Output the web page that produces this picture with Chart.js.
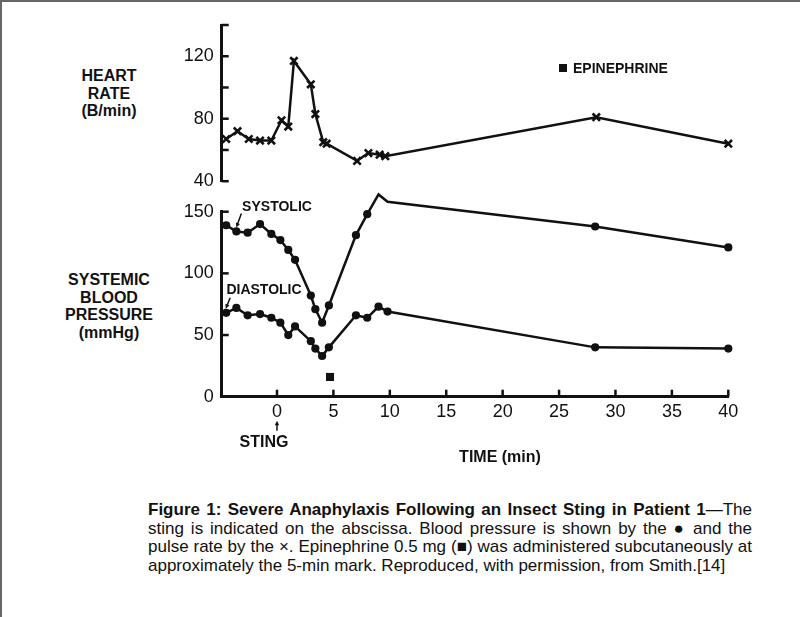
<!DOCTYPE html>
<html>
<head>
<meta charset="utf-8">
<script src="https://cdn.jsdelivr.net/npm/chart.js@4.4.1/dist/chart.umd.min.js"></script>
<style>
  html, body { margin: 0; padding: 0; background: #fff; }
  #page { position: relative; width: 800px; height: 617px; overflow: hidden;
          font-family: "Liberation Sans", Arial, Helvetica, sans-serif; color: #111; }
  .frame-top { position: absolute; left: 0; top: 0; width: 800px; height: 2px; background: #666; }
  .frame-left { position: absolute; left: 0; top: 0; width: 2px; height: 617px; background: #666; }
  .ylab { position: absolute; left: 29px; width: 160px; text-align: center;
          font-weight: bold; font-size: 16px; line-height: 17.5px; }
  #hrWrap { position: absolute; left: 0; top: 0; width: 800px; height: 200px; }
  #bpWrap { position: absolute; left: 0; top: 190px; width: 800px; height: 270px; }
  #xtitle { position: absolute; left: 420px; width: 160px; top: 448px; text-align: center;
            font-weight: bold; font-size: 16px; line-height: 18px; }
  #epiKey { position: absolute; left: 559px; top: 59px; font-weight: bold; font-size: 14px; line-height: 18px; white-space: nowrap; }
  #epiKey span { display: inline-block; width: 8px; height: 8px; background: #111; margin-right: 6px; vertical-align: 1px; }
  #caption { position: absolute; left: 148px; top: 501px; width: 604px;
             font-family: "Liberation Sans Narrow", "Arial Narrow", "Liberation Sans", sans-serif;
             font-size: 17px; line-height: 18.5px; }
  #caption div { white-space: nowrap; text-align: justify; text-align-last: justify; }
  #caption div.last { text-align-last: left; }
</style>
</head>
<body>
<div id="page">
  <div class="frame-top"></div>
  <div class="frame-left"></div>

  <div class="ylab" style="top:67px">HEART<br>RATE<br>(B/min)</div>
  <div class="ylab" style="top:271px">SYSTEMIC<br>BLOOD<br>PRESSURE<br>(mmHg)</div>

  <div id="hrWrap"><canvas id="hrChart"></canvas></div>
  <div id="bpWrap"><canvas id="bpChart"></canvas></div>

  <div id="epiKey"><span></span>EPINEPHRINE</div>
  <div id="xtitle">TIME (min)</div>

  <div id="caption">
    <div><b>Figure 1: Severe Anaphylaxis Following an Insect Sting in Patient 1</b>—The</div>
    <div>sting is indicated on the abscissa. Blood pressure is shown by the ● and the</div>
    <div>pulse rate by the ×. Epinephrine 0.5 mg (■) was administered subcutaneously at</div>
    <div class="last">approximately the 5-min mark. Reproduced, with permission, from Smith.[14]</div>
  </div>
</div>

<script>
// heart rate (x markers)
const hrTimes = [-4.5, -3.5, -2.5, -1.5, -0.5, 0.4, 1.0, 1.5, 3.0, 3.4, 4.1, 4.4, 7.1, 8.1, 9.1, 9.6, 28.3, 40];
const hrValues = [67, 72, 67, 66, 66, 79, 75, 117, 102, 83, 65, 64, 53, 58, 57, 56, 81, 64];

// blood pressure (dots)
const bpTimes = [-4.5, -3.6, -2.6, -1.5, -0.5, 0.3, 1.0, 1.6, 3.0, 3.4, 4.0, 4.6, 7.0, 8.0, 9.0, 9.8, 28.2, 40];
const systolic = [139, 134, 133, 140, 132, 127, 119, 111, 82, 71, 60, 74, 131, 148, 164, 158, 138, 121];
const diastolic = [68, 72, 66, 67, 64, 60, 50, 57, 45, 39, 33, 40, 66, 64, 73, 69, 40, 39];

// epinephrine dose
const epiTime = [4.7];
const epiMark = [16];

// axes
const timeTicks = [0, 5, 10, 15, 20, 25, 30, 35, 40];
const hrTicks = [40, 60, 80, 100, 120, 140];
const hrLabels = [40, 80, 120];
const bpTicks = [0, 50, 100, 150];

const INK = '#111';
const X_MIN = -4.9, X_MAX = 40;
const tickFont = { family: '"Liberation Sans", Arial, sans-serif', size: 18 };

const pairs = (xs, ys) => xs.map((x, i) => ({ x: x, y: ys[i] }));

// short tick marks drawn inward, like the original figure
const inwardTicks = {
  id: 'inwardTicks',
  afterDraw(chart) {
    const ctx = chart.ctx;
    ctx.save();
    ctx.strokeStyle = INK;
    ctx.lineWidth = 2.5;
    const y = chart.scales.y;
    y.ticks.forEach(t => {
      const py = y.getPixelForValue(t.value);
      ctx.beginPath(); ctx.moveTo(y.right, py); ctx.lineTo(y.right + 7, py); ctx.stroke();
    });
    const x = chart.scales.x;
    if (x.options.display) {
      x.ticks.forEach(t => {
        const px = x.getPixelForValue(t.value);
        ctx.beginPath(); ctx.moveTo(px, x.top); ctx.lineTo(px, x.top - 7); ctx.stroke();
      });
    }
    ctx.restore();
  }
};

function arrow(ctx, x1, y1, x2, y2) {
  const a = Math.atan2(y2 - y1, x2 - x1), h = 5;
  ctx.beginPath(); ctx.moveTo(x1, y1); ctx.lineTo(x2 - Math.cos(a) * 3, y2 - Math.sin(a) * 3); ctx.stroke();
  ctx.beginPath();
  ctx.moveTo(x2, y2);
  ctx.lineTo(x2 - h * Math.cos(a - 0.45), y2 - h * Math.sin(a - 0.45));
  ctx.lineTo(x2 - h * Math.cos(a + 0.45), y2 - h * Math.sin(a + 0.45));
  ctx.closePath(); ctx.fill();
}

const bpNotes = {
  id: 'bpNotes',
  afterDraw(chart) {
    const ctx = chart.ctx, xs = chart.scales.x, ys = chart.scales.y;
    ctx.save();
    ctx.fillStyle = INK; ctx.strokeStyle = INK; ctx.lineWidth = 1.5;
    ctx.textAlign = 'center'; ctx.textBaseline = 'middle';
    ctx.font = 'bold 14px "Liberation Sans", Arial, sans-serif';

    const sx = xs.getPixelForValue(bpTimes[1]), sy = ys.getPixelForValue(systolic[1]);
    ctx.fillText('SYSTOLIC', 277, 17);
    arrow(ctx, sx + 5, sy - 18, sx, sy - 4);

    const dx = xs.getPixelForValue(bpTimes[0]), dy = ys.getPixelForValue(diastolic[0]);
    ctx.fillText('DIASTOLIC', 264, 100);
    arrow(ctx, dx + 4, dy - 15, dx - 0.5, dy - 4);

    const zx = xs.getPixelForValue(0);
    arrow(ctx, zx, xs.top + 34, zx, xs.top + 24);
    ctx.font = 'bold 16px "Liberation Sans", Arial, sans-serif';
    ctx.fillText('STING', zx - 13, xs.top + 46);
    ctx.restore();
  }
};

function baseOptions(yMin, yMax, yTickList, yLabelList, showX, pad, xHeight) {
  return {
    responsive: true,
    maintainAspectRatio: false,
    animation: false,
    clip: false,
    layout: { autoPadding: false, padding: pad },
    plugins: { legend: { display: false }, tooltip: { enabled: false } },
    scales: {
      x: {
        type: 'linear', min: X_MIN, max: X_MAX, display: showX,
        grid: { display: false, drawTicks: false },
        border: { display: showX, color: INK, width: 3 },
        afterBuildTicks: s => { s.ticks = timeTicks.map(v => ({ value: v })); },
        afterFit: s => { if (xHeight) s.height = xHeight; },
        ticks: { color: INK, font: tickFont, padding: 5, maxRotation: 0, autoSkip: false }
      },
      y: {
        type: 'linear', min: yMin, max: yMax,
        grid: { display: false, drawTicks: false },
        border: { color: INK, width: 3 },
        afterBuildTicks: s => { s.ticks = yTickList.map(v => ({ value: v })); },
        afterFit: s => { s.width = 221.7; },
        ticks: {
          color: INK, font: tickFont, padding: 8, autoSkip: false,
          callback: v => (yLabelList.includes(v) ? String(v) : '')
        }
      }
    }
  };
}

new Chart(document.getElementById('hrChart'), {
  type: 'line',
  data: {
    datasets: [{
      data: pairs(hrTimes, hrValues),
      borderColor: INK, borderWidth: 2.5, tension: 0,
      pointStyle: 'crossRot', pointRadius: 5.2, pointBorderWidth: 2.6,
      pointBorderColor: INK, pointBackgroundColor: INK
    }]
  },
  options: baseOptions(40, 140, hrTicks, hrLabels, false,
    { top: 25, right: 71.7, bottom: 18.3, left: 0 }, 0),
  plugins: [inwardTicks]
});

new Chart(document.getElementById('bpChart'), {
  type: 'line',
  data: {
    datasets: [
      {
        data: pairs(bpTimes, systolic),
        borderColor: INK, borderWidth: 2.5, tension: 0,
        pointStyle: 'circle', pointRadius: 4.1, pointBorderWidth: 0,
        pointBackgroundColor: INK
      },
      {
        data: pairs(bpTimes, diastolic),
        borderColor: INK, borderWidth: 2.5, tension: 0,
        pointStyle: 'circle', pointRadius: 4.1, pointBorderWidth: 0,
        pointBackgroundColor: INK
      },
      {
        data: pairs(epiTime, epiMark),
        showLine: false,
        pointStyle: 'rect', pointRadius: 5.7, pointBorderWidth: 0,
        pointBackgroundColor: INK
      }
    ]
  },
  options: baseOptions(0, 150, bpTicks, bpTicks, true,
    { top: 21.7, right: 71.7, bottom: 0, left: 0 }, 63.3),
  plugins: [inwardTicks, bpNotes]
});
</script>
</body>
</html>
